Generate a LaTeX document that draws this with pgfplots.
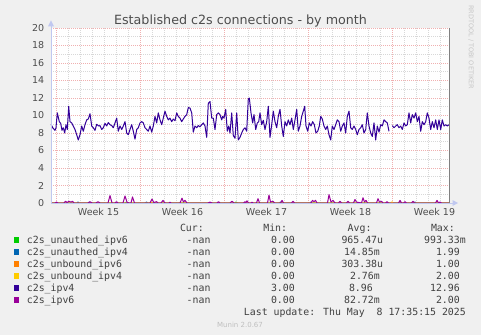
\documentclass[border=0pt]{standalone}
\usepackage{pgfplots}
\pgfplotsset{compat=1.18}
\usepackage{fontspec}
\setmainfont{DejaVu Sans}
\setmonofont{DejaVu Sans Mono}
\newfontfamily\legfont{DejaVu Sans Mono}
\definecolor{bg}{HTML}{F0F0F0}
\definecolor{cgreen}{HTML}{00CC00}
\definecolor{cblue}{HTML}{0066B3}
\definecolor{corange}{HTML}{FF8000}
\definecolor{cyellow}{HTML}{FFCC00}
\definecolor{cipvfour}{HTML}{330099}
\definecolor{cipvsix}{HTML}{990099}
\definecolor{mgrid}{HTML}{F0B0B0}
\definecolor{ngrid}{HTML}{D8D8D8}
\definecolor{axiscol}{HTML}{C0C8F0}
\definecolor{txt}{HTML}{4D4D4D}
\definecolor{legtxt}{HTML}{404040}
\begin{document}
\begin{tikzpicture}
\fill[bg] (0pt,0pt) rectangle (481pt,335pt);
\begin{axis}[
  at={(51pt,132pt)}, anchor=south west,
  scale only axis, width=399pt, height=175pt,
  xmin=51, xmax=450, ymin=0, ymax=20,
  clip=false,
  /pgf/number format/assume math mode=true,
  axis background/.style={fill=white},
  axis line style={draw=none},
  tick style={draw=none},
  xtick={56.5,140.5,224.5,308.5,392.5},
  xticklabels={},
  minor xtick={68.5,80.5,92.5,104.5,116.5,128.5,152.5,164.5,176.5,188.5,200.5,212.5,236.5,248.5,260.5,272.5,284.5,296.5,320.5,332.5,344.5,356.5,368.5,380.5,404.5,416.5,428.5,440.5},
  extra x ticks={98.5,182.5,266.5,350.5,434.5},
  extra x tick labels={Week 15,Week 16,Week 17,Week 18,Week 19},
  extra x tick style={grid=none},
  ytick={0,2,...,20},
  minor ytick={1,3,...,19},
  grid=both,
  major grid style={mgrid, line width=0.7pt, dash pattern=on 0.9pt off 1.1pt},
  minor grid style={ngrid, line width=0.7pt, dash pattern=on 0.9pt off 1.1pt},
  ticklabel style={font=\fontsize{9.5}{10}\selectfont, text=txt},
  yticklabel style={xshift=-3.2pt},
  xticklabel style={yshift=-2pt},
  unbounded coords=jump,
]
\addplot[cgreen, line width=1pt] coordinates {(51,0)(234.5,0)(236,0.1)(237.5,0)(449,0)};
\addplot[cblue, line width=1pt] coordinates {(51,0)(77,0)(78,0.1)(79,0)(88,0)(89.5,0.1)(91,0)(125,0)(126,0.08)(127,0)(145,0)(146.5,0.1)(148,0)(279,0)(280.5,0.1)(282,0)(310,0)(311,0.1)(312,0)(399,0)(400.5,0.1)(402,0)(414,0)(415,0.1)(416,0)(449,0)};
\addplot[corange, line width=1pt] coordinates {(51,0)(150,0)(151,0.1)(152,0)(449,0)};
\addplot[cyellow, line width=1pt] coordinates {(51,0)(391,0)(392,0.12)(393,0)(449,0)};
\addplot[cipvfour, line width=1pt, line join=round] coordinates {
(51,9.0)(52.7,8.6)(55,8.3)(56,8.6)(57.3,10.3)(59.3,9.3)(60.7,9.1)(62,8.3)(63.3,8.6)(64.7,8.0)
(66,8.95)(67.3,8.4)(68.7,11.05)(70,9.3)(71.7,9.15)(73.3,8.8)(75,8.4)(76.7,7.8)(78.3,7.2)(80,7.8)
(81.7,8.8)(83.3,8.2)(85,8.95)(86.7,9.5)(88.3,9.6)(90,10.2)(91.7,8.8)(93.3,8.6)(95,8.3)(96.7,9.0)
(98.7,8.8)(100,8.85)(101.7,8.4)(103.3,8.6)(105,9.1)(106.7,8.8)(108.3,9.2)(110,8.95)(111.7,8.85)(113.3,8.6)
(115,9.15)(116.7,9.7)(118.3,8.2)(120,8.8)(121.7,8.4)(123.3,8.8)(125,9.3)(126.7,8.0)(128.3,7.8)(130,8.4)
(131.7,8.95)(133.3,8.2)(135,7.3)(136.7,8.4)(138.3,8.6)(140,9.15)(141.7,9.3)(143.3,9.15)(145,8.6)(146.7,8.4)
(148.3,8.2)(150,8.8)(151.7,8.1)(153.3,8.8)(155,9.9)(156.7,9.15)(158.3,10.3)(160,9.5)(161.7,8.95)(163.3,9.7)
(165,10.5)(166.7,9.9)(168.3,9.5)(170,9.7)(171.7,9.3)(173.3,9.6)(175,9.4)(176.7,10.3)(178.3,9.9)(180,9.7)
(181.7,9.3)(183.3,9.6)(185,9.9)(186.7,10.1)(188.3,10.9)(190,10.85)(191.7,10.3)(193.3,8.1)(195,8.8)(196.7,8.6)
(198.3,8.85)(200,8.7)(201.7,8.95)(203.3,9.15)(205,8.8)(206.7,7.5)(208.3,11.4)(210,11.6)(211.7,9.7)(213.3,9.7)
(215,8.4)(216.7,10.1)(218.3,10.3)(220,10.1)(221.7,9.5)(222.7,9.9)(224,9.7)(225.7,10.7)(227.3,8.2)(228.7,8.8)
(230,8.0)(231.7,10.3)(233.3,7.7)(235,7.4)(236.7,10.3)(238.3,7.2)(240,7.5)(241.7,8.0)(243.3,8.4)(245,8.6)
(246.7,8.2)(248.3,11.9)(249.3,12.0)(251,10.3)(252.7,9.15)(254,10.1)(255.7,8.4)(257.3,9.15)(258.7,9.3)(260,10.3)
(261.7,8.95)(263.3,9.45)(265,8.4)(266.7,9.3)(268.3,11.05)(270,7.5)(271.7,8.95)(273.3,10.5)(275,9.3)(276.7,8.6)
(278.3,9.9)(280,10.7)(281.7,8.8)(283.3,7.6)(285,9.3)(286.7,8.8)(288.3,9.5)(290,8.95)(291.7,9.7)(293.3,8.4)
(295,9.5)(296.7,10.7)(298.3,8.2)(300,8.8)(301.7,9.9)(303.3,10.5)(304.7,11.05)(306,8.8)(307.7,8.2)(309.3,9.15)
(311,8.8)(312.7,9.3)(314.3,8.95)(316,8.0)(317.7,8.2)(319.3,8.8)(320.7,9.9)(322.3,9.6)(324,8.8)(325.7,8.4)
(327.3,8.8)(329,7.8)(330.7,7.2)(332.3,8.8)(334,8.4)(335.7,8.95)(337.3,9.5)(339,9.3)(340.7,8.2)(342.3,8.8)
(344,9.15)(345.7,8.0)(347.3,9.9)(349,10.5)(350.7,8.6)(352.3,8.4)(354,8.8)(355.7,8.4)(357.3,7.8)(359,8.4)
(360.7,8.6)(362.3,8.95)(364,8.0)(365.7,8.4)(367.3,10.3)(369,8.8)(370.7,8.0)(372.3,7.6)(374,9.15)(375.7,7.2)
(377.3,8.8)(379,8.1)(380.7,8.95)(382.3,8.8)(384,9.5)(385.7,9.3)(387.3,9.15)(389,8.2)(390.5,nan)
(392.3,8.85)(394,8.6)(395.7,8.8)(397.3,8.95)(399,8.6)(400.7,8.8)(402.3,8.4)(404,9.15)(405.7,8.8)(407.3,8.95)
(409,10.3)(410.7,9.15)(412.3,10.1)(414,9.7)(415.7,10.3)(417.3,9.3)(419,9.9)(420.7,8.2)(422.3,9.3)(424,8.95)
(425.7,9.3)(427.3,10.3)(429,9.7)(430.7,8.4)(432.3,9.3)(434,8.6)(435.7,9.5)(437.3,8.4)(439,9.5)(440.7,8.4)
(442.3,9.5)(444,8.8)(445.7,8.95)(447.3,8.8)(449,8.95)};
\addplot[cipvsix, line width=1pt, line join=round] coordinates {
(51,0)(55,0)(56.5,0.1)(58,0)(64,0)(65.5,0.2)(67,0.05)(69,0.2)(71,0.1)(72.5,0.2)(74,0)(88,0)(90,0.15)(92,0)
(96,0)(98,0.15)(100,0)(108,0)(110,0.85)(112,0)(115,0)(116.5,0.15)(118,0)(123,0)(125,0.8)(127,0.1)(129,0)
(131,0)(132.5,0.7)(134.5,0)(150,0)(152,0.45)(154,0)(155,0.1)(156.5,0.15)(158,0)(161,0)(163,0.3)(165,0)
(169,0)(170,0.1)(171,0)(180,0)(182,0.55)(183.5,0.1)(185,0.3)(187,0)(208,0)(210,0.1)(212,0)(217,0)
(218.5,0.15)(220,0)(230,0)(232,0.2)(234,0)(243.5,0)(245,0.15)(246,0.05)(247,0.25)(248.5,0)(251,0)
(252,0.1)(253,0)(256.5,0)(258,0.5)(259.5,0)(267.5,0)(269,0.9)(270.5,0.1)(273,0.2)(274.5,0)(280.5,0)
(282,0.3)(283.5,0)(291.5,0)(293,0.2)(294.5,0)(311,0)(312.5,0.3)(314,0.15)(315.5,0.3)(317,0)(327.5,0)
(329,0.95)(331,0.1)(333,0.3)(335,0)(338.5,0)(340,0.2)(341.5,0)(346.5,0)(348,0.2)(349.5,0)(353.5,0)
(355,0.4)(356.5,0.1)(361.5,0)(363,0.6)(364.5,0.1)(366,0.3)(367.5,0)(376.5,0)(378,0.5)(379.5,0.1)
(381.5,0.2)(383,0)(385.5,0)(387,0.15)(388.5,0)(398.5,0)(400,0.3)(401.5,0)(403.5,0)(405,0.15)(406.5,0)
(411.5,0)(413,0.2)(414.5,0)(435.5,0)(437,0.3)(438.5,0)(440,0.1)(441.5,0)(449,0)};
\end{axis}
\begin{scope}[x=1pt,y=1pt]
% axes
\draw[axiscol, line width=1pt] (51,132) -- (51,308.5);
\fill[axiscol] (48,308.5) -- (54,308.5) -- (51,314.5) -- cycle;
\draw[axiscol, line width=1pt] (51,132) -- (452.5,132);
\fill[axiscol] (452.5,135) -- (452.5,129) -- (458,132) -- cycle;
\draw[black!50, line width=0.9pt] (449.5,132) -- (449.5,307);
% title and watermark
\node[anchor=base, text=txt, font=\fontsize{12.7}{14}\selectfont, inner sep=0pt] at (240.5,310.7) {Established c2s connections - by month};
\node[anchor=west, rotate=-90, text=black!22, font=\fontsize{6.5}{7}\selectfont, inner sep=0pt] at (471,330) {RRDTOOL / TOBI OETIKER};
% legend
\begin{scope}[every node/.style={inner sep=0pt, text=legtxt, font=\legfont\fontsize{9.87}{11}\selectfont}]
\node[anchor=base east] at (204,104) {Cur:};
\node[anchor=base east] at (287.3,104) {Min:};
\node[anchor=base east] at (371.7,104) {Avg:};
\node[anchor=base east] at (455,104) {Max:};
\fill[cgreen] (14,92.4) rectangle ++(5.3,5.3);
\fill[cblue] (14,80.4) rectangle ++(5.3,5.3);
\fill[corange] (14,68.4) rectangle ++(5.3,5.3);
\fill[cyellow] (14,56.4) rectangle ++(5.3,5.3);
\fill[cipvfour] (14,44.4) rectangle ++(5.3,5.3);
\fill[cipvsix] (14,32.4) rectangle ++(5.3,5.3);
\node[anchor=base west] at (26.7,92) {c2s\_unauthed\_ipv6};
\node[anchor=base west] at (26.7,80) {c2s\_unauthed\_ipv4};
\node[anchor=base west] at (26.7,68) {c2s\_unbound\_ipv6};
\node[anchor=base west] at (26.7,56) {c2s\_unbound\_ipv4};
\node[anchor=base west] at (26.7,44) {c2s\_ipv4};
\node[anchor=base west] at (26.7,32) {c2s\_ipv6};
\foreach \yy in {92,80,68,56,44,32} {
  \node[anchor=base east] at (210.7,\yy) {-nan};
}
\foreach \yy/\v in {92/0.00,80/0.00,68/0.00,56/0.00,44/3.00,32/0.00} {
  \node[anchor=base east] at (295,\yy) {\v};
}
\node[anchor=base east] at (383.3,92) {965.47u};
\node[anchor=base east] at (380,80) {14.85m};
\node[anchor=base east] at (383.3,68) {303.38u};
\node[anchor=base east] at (380,56) {2.76m};
\node[anchor=base east] at (373,44) {8.96};
\node[anchor=base east] at (380,32) {82.72m};
\node[anchor=base east] at (466,92) {993.33m};
\node[anchor=base east] at (460,80) {1.99};
\node[anchor=base east] at (460,68) {1.00};
\node[anchor=base east] at (460,56) {2.00};
\node[anchor=base east] at (460,44) {12.96};
\node[anchor=base east] at (460,32) {2.00};
\node[anchor=base east] at (466,19.7) {Last update: Thu May~~8 17:35:15 2025};
\end{scope}
\node[anchor=base, inner sep=0pt, text=black!25, font=\fontsize{7}{8}\selectfont] at (240,8) {Munin 2.0.67};
\end{scope}
\end{tikzpicture}
\end{document}
